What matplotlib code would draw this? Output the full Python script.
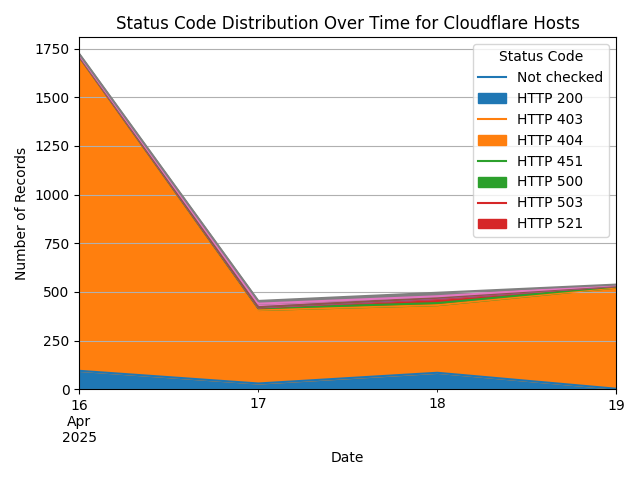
import matplotlib
matplotlib.use("Agg")
import matplotlib.pyplot as plt
import pandas as pd

dates = ["2025-04-16", "2025-04-17", "2025-04-18", "2025-04-19"]
status_codes = ["Not checked", "HTTP 200", "HTTP 403", "HTTP 404",
                "HTTP 451", "HTTP 500", "HTTP 503", "HTTP 521"]
not_checked = [95, 30, 85, 3]
http_200 = [1607, 378, 348, 520]
http_403 = [5, 8, 10, 5]
http_404 = [2, 3, 22, 2]
http_451 = [2, 2, 3, 1]
http_500 = [1, 1, 2, 1]
http_503 = [4, 18, 8, 3]
http_521 = [6, 14, 18, 3]

df = pd.DataFrame(
    {
        "Not checked": not_checked,
        "HTTP 200": http_200,
        "HTTP 403": http_403,
        "HTTP 404": http_404,
        "HTTP 451": http_451,
        "HTTP 500": http_500,
        "HTTP 503": http_503,
        "HTTP 521": http_521,
    },
    index=pd.DatetimeIndex(pd.to_datetime(dates), freq="D"),
)

fig, ax = plt.subplots(figsize=(6.4, 4.8), dpi=100)
df.plot.area(ax=ax, stacked=True)
ax.set_title("Status Code Distribution Over Time for Cloudflare Hosts")
ax.set_xlabel("Date")
ax.set_ylabel("Number of Records")
ax.legend(status_codes, title="Status Code", loc="upper right")
ax.grid(axis="y")
fig.tight_layout()
fig.savefig("out.png")
